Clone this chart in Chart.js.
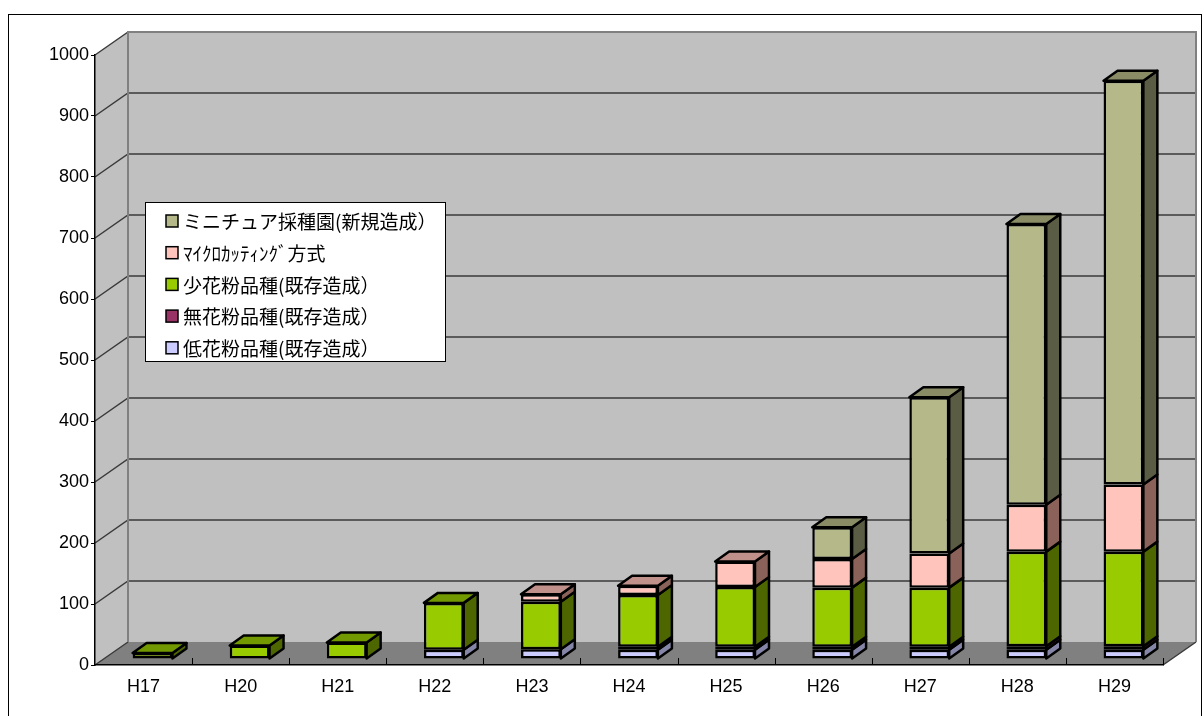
<!DOCTYPE html>
<html>
<head>
<meta charset="utf-8">
<script src="https://cdn.jsdelivr.net/npm/chart.js@4.4.1/dist/chart.umd.min.js"></script>
<style>
  html, body { margin: 0; padding: 0; background: #fff; }
  canvas { display: block; }
</style>
</head>
<body>
<canvas id="chart" width="1204" height="716"></canvas>
<script>
// categories and series (bottom of stack first)
const categories = ['H17', 'H20', 'H21', 'H22', 'H23', 'H24', 'H25', 'H26', 'H27', 'H28', 'H29'];
const lowPollen    = [0, 0, 0, 15, 16, 15, 15, 15, 15, 15, 15];
const noPollen     = [0, 0, 0, 0, 0, 5, 5, 5, 5, 6, 6];
const fewPollen    = [10, 22, 27, 77, 78, 85, 98, 97, 97, 155, 155];
const microCutting = [0, 0, 0, 0, 12, 15, 42, 47, 56, 77, 110];
const miniature    = [0, 0, 0, 0, 0, 0, 0, 52, 256, 460, 662];

const seriesNames = [
  '低花粉品種(既存造成）',
  '無花粉品種(既存造成）',
  '少花粉品種(既存造成）',
  'ﾏｲｸﾛｶｯﾃｨﾝｸﾞ方式',
  'ミニチュア採種園(新規造成）'
];
const yMin = 0, yMax = 1000, yStep = 100;

// colours: front, side, top faces
const frontColors = ['#ccccff', '#993366', '#99cc00', '#ffc4bc', '#b5b888'];
const sideColors  = ['#8585a8', '#4d1a33', '#4d6600', '#8a6259', '#5a5c44'];
const topColors   = ['#a3a3cc', '#732650', '#739900', '#c0908a', '#8a8c66'];

// 3D look
const wallDX = 33, wallDY = 23;   // depth of the floor / walls
const barShiftX = 9, barShiftY = 6; // bars sit a bit behind the front plane
const barDX = 14, barDY = 10;     // depth of each bar

const walls = {
  id: 'walls',
  beforeDraw(chart) {
    const { ctx, chartArea: a, scales: { y } } = chart;
    ctx.save();
    ctx.fillStyle = '#fff';
    ctx.fillRect(0, 0, chart.width, chart.height);

    const top = y.getPixelForValue(yMax), bot = y.getPixelForValue(yMin);
    // left wall
    ctx.fillStyle = '#c0c0c0';
    ctx.beginPath();
    ctx.moveTo(a.left, top);
    ctx.lineTo(a.left + wallDX, top - wallDY);
    ctx.lineTo(a.left + wallDX, bot - wallDY);
    ctx.lineTo(a.left, bot);
    ctx.closePath();
    ctx.fill();
    // back wall
    ctx.fillRect(a.left + wallDX, top - wallDY, a.right - a.left, bot - top);
    // floor
    ctx.fillStyle = '#808080';
    ctx.beginPath();
    ctx.moveTo(a.left, bot);
    ctx.lineTo(a.right, bot);
    ctx.lineTo(a.right + wallDX, bot - wallDY);
    ctx.lineTo(a.left + wallDX, bot - wallDY);
    ctx.closePath();
    ctx.fill();

    // gridlines
    ctx.lineWidth = 1.5;
    for (let v = yMin + yStep; v < yMax; v += yStep) {
      const py = y.getPixelForValue(v);
      ctx.strokeStyle = '#3a3a3a';
      ctx.beginPath();
      ctx.moveTo(a.left, py);
      ctx.lineTo(a.left + wallDX, py - wallDY);
      ctx.lineTo(a.right + wallDX, py - wallDY);
      ctx.stroke();
    }
    // wall edges
    ctx.strokeStyle = '#3a3a3a';
    ctx.beginPath();
    ctx.moveTo(a.left, top);
    ctx.lineTo(a.left + wallDX, top - wallDY);
    ctx.moveTo(a.left, bot);
    ctx.lineTo(a.left + wallDX, bot - wallDY);
    ctx.moveTo(a.right, bot);
    ctx.lineTo(a.right + wallDX, bot - wallDY);
    ctx.stroke();
    ctx.strokeStyle = '#808080';
    ctx.lineWidth = 2;
    ctx.beginPath();
    ctx.moveTo(a.left + wallDX, bot - wallDY);
    ctx.lineTo(a.left + wallDX, top - wallDY);
    ctx.lineTo(a.right + wallDX, top - wallDY);
    ctx.lineTo(a.right + wallDX, bot - wallDY);
    ctx.stroke();

    // category ticks on the floor edge
    ctx.strokeStyle = '#000';
    ctx.lineWidth = 1;
    const step = (a.right - a.left) / categories.length;
    ctx.beginPath();
    for (let k = 1; k <= categories.length; k++) {
      const px = Math.round(a.left + step * k) + 0.5;
      ctx.moveTo(px, bot);
      ctx.lineTo(px, bot - 7);
    }
    ctx.stroke();
    ctx.restore();
  },
  beforeDatasetsDraw(chart) {
    chart.ctx.save();
    chart.ctx.translate(barShiftX, -barShiftY);
  },
  afterDatasetsDraw(chart) {
    const ctx = chart.ctx;
    const metas = chart.data.datasets.map((d, i) => chart.getDatasetMeta(i));
    ctx.lineWidth = 2.5;
    ctx.strokeStyle = '#000';
    ctx.lineJoin = 'round';
    categories.forEach((c, ci) => {
      let topIdx = -1;
      metas.forEach((m, di) => {
        const el = m.data[ci];
        const p = el.getProps(['x', 'y', 'base', 'width'], true);
        if (Math.abs(p.base - p.y) < 0.5) return;
        topIdx = di;
        const r = p.x + p.width / 2;
        ctx.fillStyle = sideColors[di];
        ctx.beginPath();
        ctx.moveTo(r, p.base);
        ctx.lineTo(r + barDX, p.base - barDY);
        ctx.lineTo(r + barDX, p.y - barDY);
        ctx.lineTo(r, p.y);
        ctx.closePath();
        ctx.fill();
        ctx.stroke();
      });
      if (topIdx < 0) return;
      const p = metas[topIdx].data[ci].getProps(['x', 'y', 'base', 'width'], true);
      const l = p.x - p.width / 2, r = p.x + p.width / 2;
      ctx.fillStyle = topColors[topIdx];
      ctx.beginPath();
      ctx.moveTo(l, p.y);
      ctx.lineTo(r, p.y);
      ctx.lineTo(r + barDX, p.y - barDY);
      ctx.lineTo(l + barDX, p.y - barDY);
      ctx.closePath();
      ctx.fill();
      ctx.stroke();
    });
    ctx.restore();
  }
};

const legendBox = {
  id: 'legendBox',
  afterDraw(chart) {
    const ctx = chart.ctx;
    ctx.save();
    ctx.fillStyle = '#fff';
    ctx.strokeStyle = '#000';
    ctx.lineWidth = 1;
    ctx.fillRect(145.5, 202.5, 300, 159);
    ctx.strokeRect(145.5, 202.5, 300, 159);
    ctx.font = '19px "Noto Sans CJK JP", sans-serif';
    ctx.textBaseline = 'middle';
    const ds = chart.data.datasets.slice().reverse();
    ds.forEach((d, i) => {
      const cy = 221 + i * 31.7;
      ctx.fillStyle = d.backgroundColor;
      ctx.fillRect(166, cy - 6, 12, 12);
      ctx.lineWidth = 1.5;
      ctx.strokeRect(166, cy - 6, 12, 12);
      ctx.fillStyle = '#000';
      ctx.fillText(d.label, 183, cy + 1);
    });
    // outer frame
    ctx.lineWidth = 1;
    ctx.strokeRect(8.5, 14.5, 1193, 800);
    ctx.restore();
  }
};

const series = [lowPollen, noPollen, fewPollen, microCutting, miniature];

new Chart(document.getElementById('chart'), {
  type: 'bar',
  data: {
    labels: categories,
    datasets: series.map((s, i) => ({
      label: seriesNames[i],
      data: s,
      backgroundColor: frontColors[i],
      borderColor: '#000',
      borderWidth: 2.5,
      borderSkipped: false,
      barPercentage: 0.41,
      categoryPercentage: 1,
      clip: false
    }))
  },
  options: {
    responsive: false,
    animation: false,
    layout: { padding: { left: 0, top: 55, right: 41, bottom: 0 } },
    plugins: {
      legend: { display: false },
      tooltip: { enabled: false }
    },
    scales: {
      x: {
        stacked: true,
        afterFit(scale) { scale.height = 51; },
        grid: { drawOnChartArea: false, drawTicks: false },
        border: { color: '#000', width: 1.5 },
        ticks: {
          color: '#000',
          padding: 11,
          font: { family: '"Liberation Sans", Arial, sans-serif', size: 18 }
        }
      },
      y: {
        stacked: true,
        min: yMin,
        max: yMax,
        afterFit(scale) { scale.width = 95; },
        grid: { drawOnChartArea: false, drawTicks: true, tickLength: 4, tickColor: '#000' },
        border: { color: '#000', width: 1.5 },
        ticks: {
          stepSize: yStep,
          color: '#000',
          padding: 2,
          callback: v => String(v),
          font: { family: '"Liberation Sans", Arial, sans-serif', size: 18 }
        }
      }
    }
  },
  plugins: [walls, legendBox]
});
</script>
</body>
</html>
